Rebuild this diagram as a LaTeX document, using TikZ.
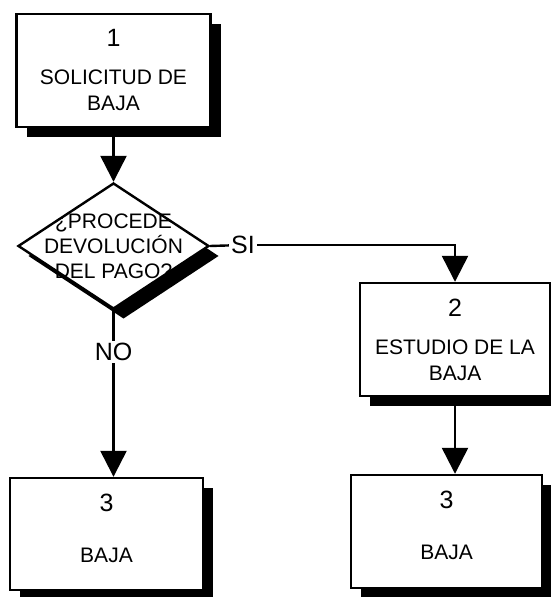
\documentclass[tikz,border=0pt]{standalone}
\usepackage{fontspec}
\setmainfont{Liberation Sans}
\usetikzlibrary{shapes.geometric,shadows,arrows.meta}
\newcommand{\cifra}[1]{{\fontsize{12.5}{15}\selectfont #1}}

\begin{document}
\begin{tikzpicture}[x=0.5pt,y=-0.5pt,
  sombra/.style={drop shadow={shadow xshift=5pt,shadow yshift=-5pt,fill=black,opacity=1}},
  caja/.style={draw,line width=1.2pt,fill=white,sombra,minimum width=97pt,minimum height=56.5pt,
    inner sep=0pt,align=center,font=\fontsize{10.5}{13}\selectfont},
  rombo/.style={diamond,draw,line width=1.2pt,fill=white,sombra,minimum width=95.5pt,minimum height=63pt,inner sep=0pt},
  rotulo/.style={fill=white,inner sep=1pt,font=\fontsize{12.5}{15}\selectfont},
  linea/.style={line width=1.2pt},
  flecha/.style={line width=1.2pt,-{Triangle[length=13pt,width=13pt]}}]
\useasboundingbox (0,0) rectangle (550,597);
% bloques
\node[caja] (s1) at (113.5,70.5) {\cifra{1}\\[6pt]SOLICITUD DE\\BAJA};
\node[rombo] (q) at (113.5,246) {};
\node[align=center,font=\fontsize{10.5}{12.5}\selectfont] (qt) at (q) {¿PROCEDE\\DEVOLUCIÓN\\DEL PAGO?};
\node[caja,minimum width=95pt] (s2) at (455,339.5) {\cifra{2}\\[6pt]ESTUDIO DE LA\\BAJA};
\node[caja,minimum width=96.5pt,minimum height=56pt] (s3l) at (106.5,534) {\cifra{3}\\[12.5pt]BAJA\\[-7pt]\mbox{}};
\node[caja,minimum width=95.5pt] (s3r) at (446.5,531.5) {\cifra{3}\\[12.5pt]BAJA\\[-7pt]\mbox{}};
\node[rotulo] (si) at (243,245) {SI};
\node[rotulo] (no) at (113.5,352) {NO};
% conexiones
\draw[flecha] (s1) -- (q);
\draw[linea] (q.east) -- (si);
\draw[flecha] (si) -| (s2.north);
\draw[linea] (q.south) -- (no);
\draw[flecha] (no) -- (no |- s3l.north);
\draw[flecha] (s2.south) -- (s2.south |- s3r.north);
\end{tikzpicture}
\end{document}
